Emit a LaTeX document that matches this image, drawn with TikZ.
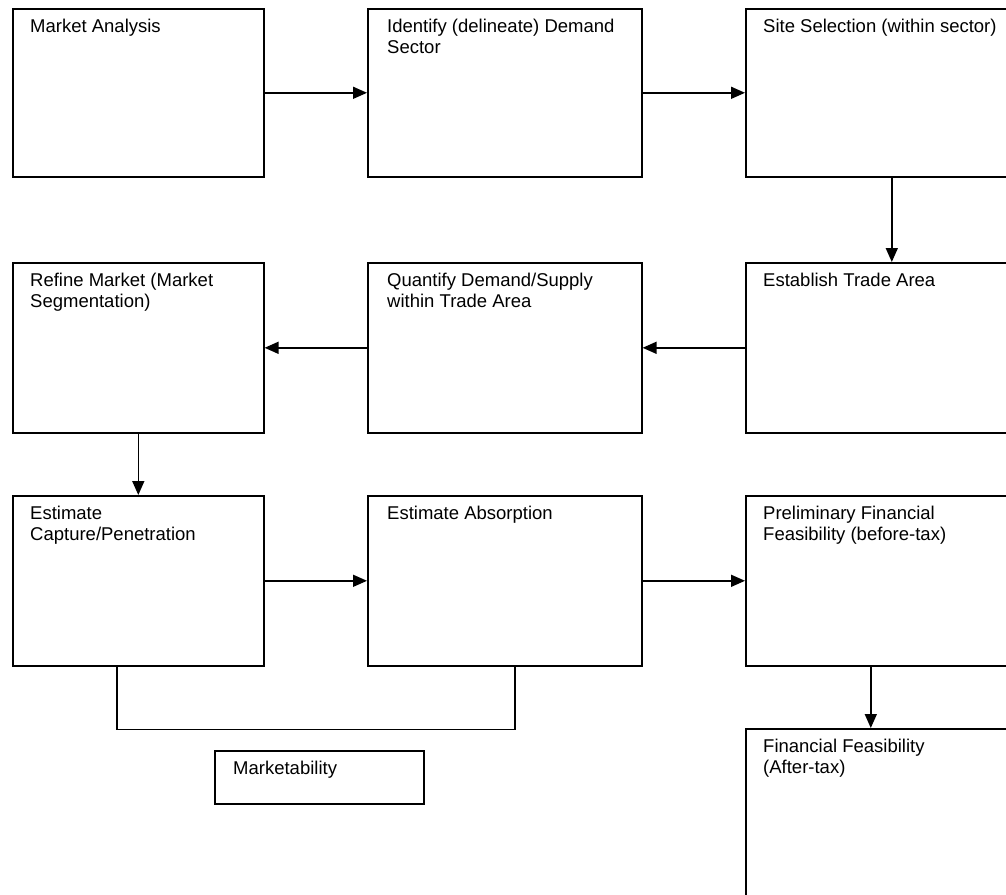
\documentclass[tikz,border=0pt]{standalone}
\usepackage{fontspec}
\setmainfont{Liberation Sans}
\usetikzlibrary{arrows.meta}
\tikzset{
    box/.style={draw, line width=1.6pt, anchor=north west, inner sep=0pt},
    boxtext/.style={anchor=north west, inner sep=0pt, align=left, font=\fontsize{18.5pt}{21pt}\selectfont},
    arr/.style={line width=1.6pt, -{Triangle[length=14pt,width=12pt]}},
    link/.style={line width=1.6pt}
}
\begin{document}
\begin{tikzpicture}[x=1pt, y=-1pt]
    \useasboundingbox (0,0) rectangle (1006,894);
    \clip (0,0) rectangle (1006,894);

    \node[box, minimum width=251pt, minimum height=168pt] (ma) at (12,8) {};
    \node[box, minimum width=274pt, minimum height=168pt] (id) at (367,8) {};
    \node[box, minimum width=292pt, minimum height=168pt] (ss) at (745,8) {};

    \node[box, minimum width=251pt, minimum height=170pt] (rm) at (12,262) {};
    \node[box, minimum width=274pt, minimum height=170pt] (qd) at (367,262) {};
    \node[box, minimum width=292pt, minimum height=170pt] (ea) at (745,262) {};

    \node[box, minimum width=251pt, minimum height=170pt] (ec) at (12,495) {};
    \node[box, minimum width=274pt, minimum height=170pt] (ab) at (367,495) {};
    \node[box, minimum width=292pt, minimum height=170pt] (pf) at (745,495) {};

    \node[box, minimum width=292pt, minimum height=190pt] (ff) at (745,728) {};
    \node[box, minimum width=209pt, minimum height=53pt] (mk) at (214,750) {};

    \node[boxtext] (maT) at ([shift={(18,11)}]ma.north west) {Market Analysis};
    \node[boxtext] (idT) at ([shift={(20,11)}]id.north west) {Identify (delineate) Demand\\Sector};
    \node[boxtext] (ssT) at ([shift={(18,11)}]ss.north west) {Site Selection (within sector)};
    \node[boxtext] (rmT) at ([shift={(18,11)}]rm.north west) {Refine Market (Market\\Segmentation)};
    \node[boxtext] (qdT) at ([shift={(20,11)}]qd.north west) {Quantify Demand/Supply\\within Trade Area};
    \node[boxtext] (eaT) at ([shift={(18,11)}]ea.north west) {Establish Trade Area};
    \node[boxtext] (ecT) at ([shift={(18,11)}]ec.north west) {Estimate\\Capture/Penetration};
    \node[boxtext] (abT) at ([shift={(20,11)}]ab.north west) {Estimate Absorption};
    \node[boxtext] (pfT) at ([shift={(18,11)}]pf.north west) {Preliminary Financial\\Feasibility (before-tax)};
    \node[boxtext] (ffT) at ([shift={(18,11)}]ff.north west) {Financial Feasibility\\(After-tax)};
    \node[boxtext] (mkT) at ([shift={(19,11)}]mk.north west) {Marketability};

    \draw[arr] (ma.east) -- (id.west);
    \draw[arr] (id.east) -- (ss.west);
    \draw[arr] (ss.south) -- (ea.north);
    \draw[arr] (ea.west) -- (qd.east);
    \draw[arr] (qd.west) -- (rm.east);
    \draw[arr] (rm.south) -- (ec.north);
    \draw[arr] (ec.east) -- (ab.west);
    \draw[arr] (ab.east) -- (pf.west);
    \draw[arr] ([xshift=-21pt]pf.south) -- ([xshift=-21pt]ff.north);

    \draw[link] ([xshift=-21.5pt]ec.south) -- ++(0,63) -| ([xshift=10pt]ab.south);
\end{tikzpicture}
\end{document}
